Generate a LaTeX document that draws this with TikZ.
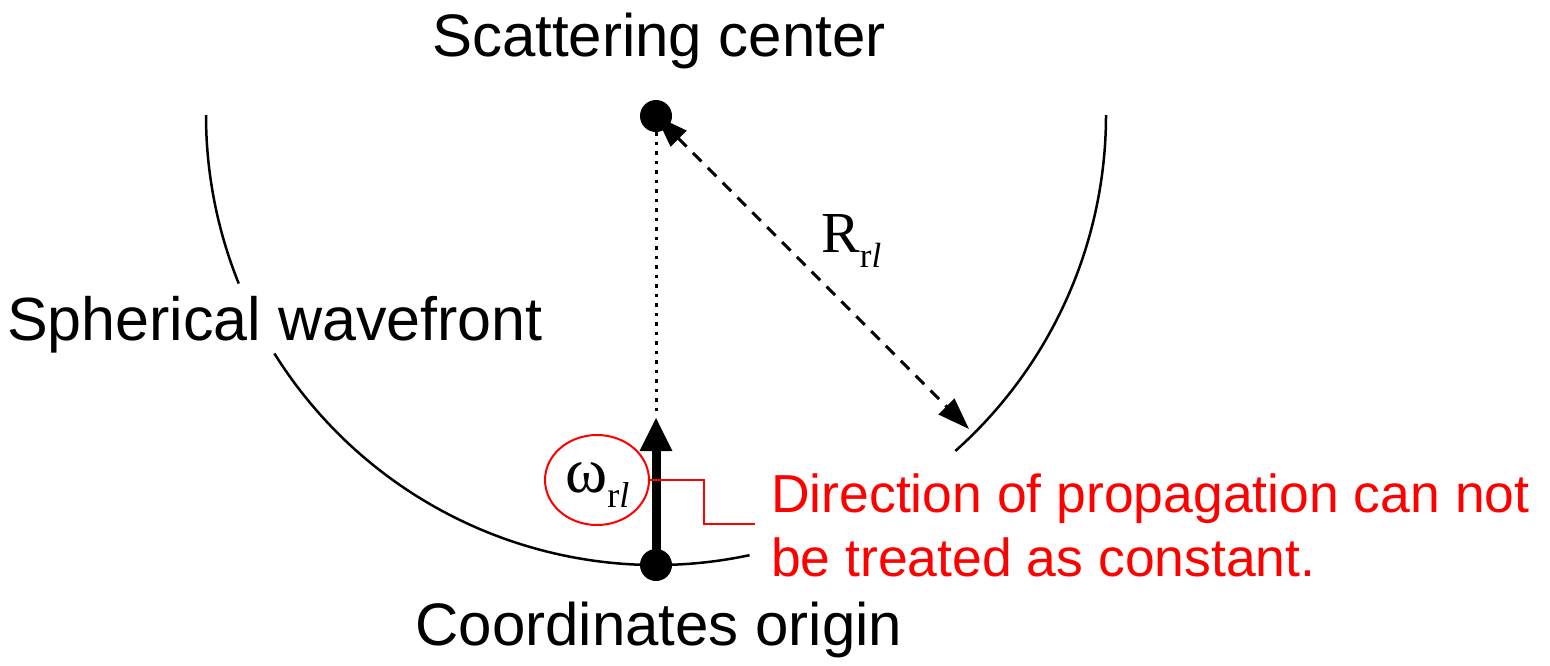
\documentclass[tikz,border=0pt]{standalone}
\usepackage{fontspec}
\setmainfont{Liberation Sans}
\newfontfamily\tms{Liberation Serif}
\usetikzlibrary{arrows.meta,shapes.geometric}
\begin{document}
\begin{tikzpicture}[x=1pt,y=-1pt,
  lbl/.style={font=\fontsize{60}{72}\selectfont, inner sep=0pt},
  note/.style={font=\fontsize{53.5}{64}\selectfont, text=red, inner sep=0pt, anchor=base west},
  dot/.style={circle, fill=black, inner sep=0pt, minimum size=32pt},
  wave/.style={line width=2.5pt},
  redline/.style={draw=red, line width=2pt},
  ]
\useasboundingbox (0,0) rectangle (1550,665);
% spherical wavefront (pieces, interrupted by labels)
\draw[wave] (206,115) arc[start angle=180, end angle=158, radius=450];
\draw[wave] (656,115) ++(148:450) arc[start angle=148, end angle=78, radius=450];
\draw[wave] (656,115) ++(48.3:450) arc[start angle=48.3, end angle=0, radius=450];
% dots
\node[dot] (sc) at (656,116) {};
\node[dot] (org) at (656,565) {};
\coordinate (tip) at (656,417);
\coordinate (wend) at (969,429);
% dotted line
\draw[line width=3pt, dash pattern=on 3.5pt off 6pt] (sc) -- (tip);
% thick arrow
\draw[line width=9pt, -{Triangle[length=34pt,width=30pt]}] (org.center) -- (tip);
% dashed double arrow
\draw[line width=3pt, dash pattern=on 12pt off 9pt,
  {Triangle[length=32pt,width=22pt]}-{Triangle[length=32pt,width=22pt]}] (sc.center) -- (wend);
% labels
\node[lbl, anchor=base] (tsc) at (659,56) {Scattering center};
\node[lbl, anchor=base] (tco) at (659,645) {Coordinates origin};
\node[lbl, anchor=base west, font=\fontsize{61}{72}\selectfont] (tsw) at (7,340) {Spherical wavefront};
\node[inner sep=0pt, anchor=base west] (rrl) at (821,252)
  {\tms\fontsize{58}{58}\selectfont R\raisebox{-15pt}{\fontsize{35}{35}\selectfont r\textit{l}}};
% omega with red ellipse
\node[ellipse, redline, minimum width=104pt, minimum height=90pt, inner sep=0pt] (om) at (597,480) {};
\node[inner sep=0pt, anchor=base west] (omt) at (565,492)
  {\tms\fontsize{64}{64}\selectfont ω\raisebox{-15pt}{\fontsize{36}{36}\selectfont r\textit{l}}};
\coordinate (cend) at (755,524);
\draw[redline] (om.east) -- ++(54,0) |- (cend);
\node[note] (n1) at (771,512) {Direction of propagation can not};
\node[note] (n2) at (771,576) {be treated as constant.};
\end{tikzpicture}
\end{document}
